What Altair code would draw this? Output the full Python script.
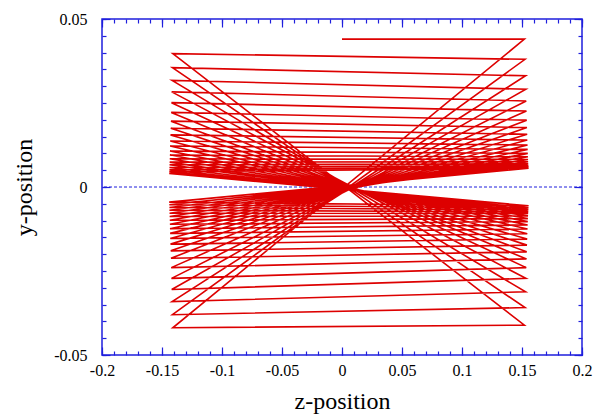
import altair as alt
import pandas as pd

RED = "#dd0000"
BLUE = "#1f1fdd"
FONT = "Liberation Serif"

# ---- data ----
start_z = 0.0
start_y = 0.0440

# z of the right-hand and left-hand turning points, one per cycle
z_right = [0.1520, 0.1525, 0.1530, 0.1532, 0.1535, 0.1537, 0.1539, 0.1541, 0.1543, 0.1544,
           0.1546, 0.1547, 0.1548, 0.1549, 0.1550, 0.1551, 0.1552, 0.1553, 0.1554, 0.1555]
z_left = [-0.1410, -0.1413, -0.1416, -0.1419, -0.1421, -0.1423, -0.1425, -0.1427, -0.1429, -0.1431,
          -0.1432, -0.1433, -0.1434, -0.1435, -0.1436, -0.1437, -0.1438, -0.1438, -0.1439, -0.1440]

# y of turning points (cycle order: right-top, left-bottom, right-bottom, left-top)
y_right_top = [0.0440, 0.0380, 0.0331, 0.0291, 0.0256, 0.0226, 0.0199, 0.0177, 0.0157, 0.0140,
               0.0125, 0.0112, 0.0100, 0.0090, 0.0082, 0.0075, 0.0069, 0.0064, 0.0060, 0.0056]
y_left_bottom = [-0.0419, -0.0380, -0.0341, -0.0305, -0.0272, -0.0240, -0.0212, -0.0190, -0.0170, -0.0153,
                 -0.0138, -0.0124, -0.0111, -0.0099, -0.0088, -0.0078, -0.0069, -0.0061, -0.0053, -0.0045]
y_right_bottom = [-0.0411, -0.0359, -0.0312, -0.0272, -0.0240, -0.0214, -0.0193, -0.0173, -0.0155, -0.0139,
                  -0.0125, -0.0113, -0.0103, -0.0094, -0.0086, -0.0079, -0.0074, -0.0068, -0.0062, -0.0056]
y_left_top = [0.0397, 0.0355, 0.0317, 0.0283, 0.0251, 0.0222, 0.0196, 0.0175, 0.0155, 0.0137,
              0.0122, 0.0107, 0.0095, 0.0084, 0.0074, 0.0066, 0.0058, 0.0051, 0.0045, 0.0040]

x_label_values = [-0.2, -0.15, -0.1, -0.05, 0, 0.05, 0.1, 0.15, 0.2]
y_label_values = [-0.05, 0, 0.05]
x_minor_values = [round(-0.2 + 0.01 * k, 2) for k in range(41)]
y_minor_values = [round(-0.05 + 0.005 * k, 3) for k in range(21)]

rows = [(start_z, start_y)]
for i in range(len(z_right)):
    rows.append((z_right[i], y_right_top[i]))
    rows.append((z_left[i], y_left_bottom[i]))
    rows.append((z_right[i], y_right_bottom[i]))
    rows.append((z_left[i], y_left_top[i]))
df = pd.DataFrame(rows, columns=["z", "y"])
df["i"] = range(len(df))

xs = alt.Scale(domain=[-0.2, 0.2], nice=False, zero=False)
ys = alt.Scale(domain=[-0.05, 0.05], nice=False, zero=False)


def tick_axis(orient, values, size):
    return alt.Axis(orient=orient, values=values, offset=-size, tickSize=size,
                    tickColor=BLUE, tickWidth=1.2, labels=False, domain=False,
                    grid=False, title=None)


zero = alt.Chart(pd.DataFrame({"y": [0.0]})).mark_rule(
    color=BLUE, strokeDash=[3, 2], strokeWidth=1
).encode(y=alt.Y("y:Q", scale=ys, axis=None))

line = alt.Chart(df).mark_line(color=RED, strokeWidth=1.6).encode(
    x=alt.X("z:Q", scale=xs, axis=alt.Axis(
        orient="bottom", values=x_label_values, ticks=False, domain=False, grid=False,
        labelExpr="toString(datum.value)", labelFlush=False, labelOverlap=False,
        labelPadding=7, title="z-position", titlePadding=11)),
    y=alt.Y("y:Q", scale=ys, axis=alt.Axis(
        orient="left", values=y_label_values, ticks=False, domain=False, grid=False,
        labelExpr="toString(datum.value)", labelFlush=False, labelOverlap=False,
        labelPadding=15, title="y-position", titlePadding=17)),
    order="i:Q",
)

def ghost(xo, yo, xv, yv, size):
    return alt.Chart(df).mark_point(opacity=0).encode(
        x=alt.X("z:Q", scale=xs, axis=tick_axis(xo, xv, size)),
        y=alt.Y("y:Q", scale=ys, axis=tick_axis(yo, yv, size)),
    )

layers = [
    zero,
    line,
    ghost("bottom", "left", x_label_values, y_label_values, 8),
    ghost("bottom", "left", x_minor_values, y_minor_values, 4),
    ghost("top", "right", x_label_values, y_label_values, 8),
    ghost("top", "right", x_minor_values, y_minor_values, 4),
]

chart = alt.layer(*layers).resolve_axis(x="independent", y="independent").properties(
    width=480, height=336,
    padding={"left": 102, "top": 19, "right": 21, "bottom": 63},
    autosize=alt.AutoSizeParams(type="none"),
).configure_view(
    stroke=BLUE, strokeWidth=1.5
).configure_axis(
    labelFont=FONT, labelFontSize=16, labelColor="black",
    titleFont=FONT, titleFontSize=24, titleFontWeight="normal", titleColor="black",
)

chart.save("out.html", embed_options={"renderer": "svg", "actions": False})
